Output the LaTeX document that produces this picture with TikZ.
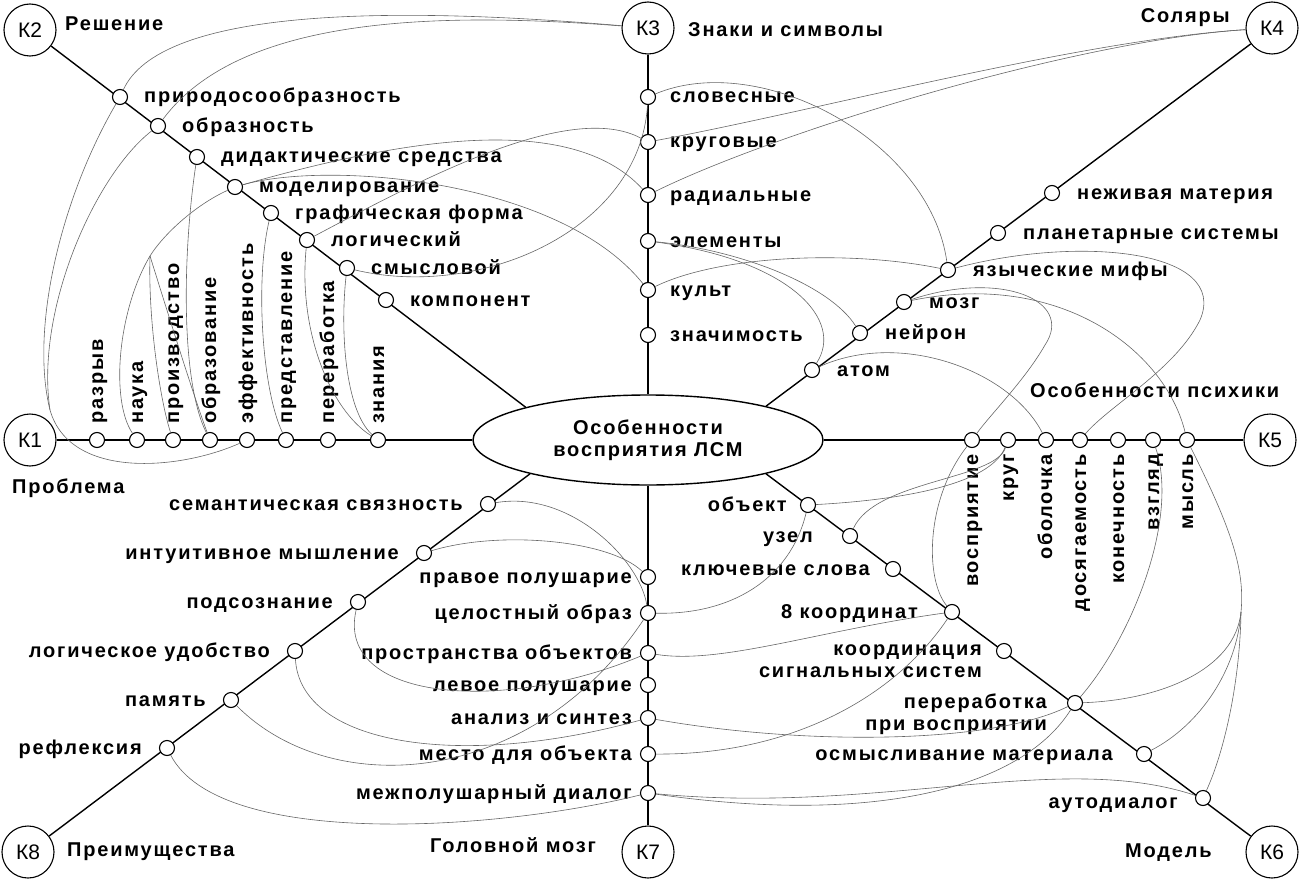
\documentclass[tikz,border=0pt]{standalone}
\usepackage{fontspec}
\setmainfont{Liberation Sans}
\newfontfamily\lblfont{Liberation Sans}[LetterSpace=9]
\usetikzlibrary{shapes.geometric}
\begin{document}
\begin{tikzpicture}[x=1pt,y=-1pt,every node/.style={inner sep=0pt},
    hub/.style={circle,draw,line width=1.1pt,minimum size=52pt,fill=white,font=\fontsize{21}{23}\selectfont},
    dot/.style={circle,draw,line width=1.1pt,minimum size=15pt,fill=white},
    lbl/.style={font=\lblfont\bfseries\fontsize{20}{22}\selectfont},
    axis/.style={line width=1.4pt},
    link/.style={line width=0.6pt,black!60}]
\useasboundingbox (0,0) rectangle (1301,880);
% centre and the eight keys
\node[lbl,ellipse,draw,line width=1.4pt,minimum width=350pt,minimum height=90pt,align=center] (lsm) at (648,440) {Особенности\\восприятия ЛСМ};
\node[hub] (K1) at (30,440) {К1};
\node[hub] (K2) at (30,30) {К2};
\node[hub] (K3) at (648,28) {К3};
\node[hub] (K4) at (1272,28) {К4};
\node[hub] (K5) at (1270,440) {К5};
\node[hub] (K6) at (1272,852) {К6};
\node[hub] (K7) at (648,852) {К7};
\node[hub] (K8) at (28,852) {К8};
\draw[axis] (K1) -- (lsm.west);
\draw[axis] (K2) -- (lsm.165);
\draw[axis] (K3) -- (lsm.north);
\draw[axis] (K4) -- (lsm.16);
\draw[axis] (K5) -- (lsm.east);
\draw[axis] (K6) -- (lsm.-16);
\draw[axis] (K7) -- (lsm.south);
\draw[axis] (K8) -- (lsm.196);
% key titles
\node[lbl,anchor=base west] (t2) at (65,31) {Решение};
\node[lbl,anchor=base west] (t3) at (688,37) {Знаки и символы};
\node[lbl,anchor=base east] (t4) at (1230,23) {Соляры};
\node[lbl,anchor=base west] (t5) at (1030,397) {Особенности психики};
\node[lbl,anchor=base west] (t1) at (12,493) {Проблема};
\node[lbl,anchor=base west] (t8) at (67,856) {Преимущества};
\node[lbl,anchor=base west] (t7) at (430,852) {Головной мозг};
\node[lbl,anchor=base west] (t6) at (1125,857) {Модель};
% K2
\foreach \n/\x/\y/\t in {pr/120/97/природосообразность, obr/158/126/образность,
    did/197/157/дидактические средства, mod/235/187/моделирование,
    gra/271/213/графическая форма, lgc/307/240/логический,
    sms/347/268/смысловой, kmp/386/300/компонент}{
  \node[dot] (\n) at (\x,\y) {};
  \node[lbl,anchor=base west] (\n-t) at (\x+24,\y+6) {\t};
}
% K1
\foreach \n/\x/\t in {raz/97/разрыв, nau/137/наука, pro/173/производство,
    obz/210/образование, eff/247/эффективность, pre/286/представление,
    prb/328/переработка, zna/378/знания}{
  \node[dot] (\n) at (\x,440) {};
  \node[lbl,rotate=90,anchor=base west] (\n-t) at (\x+6,424) {\t};
}
% K3
\foreach \n/\y/\t in {slo/97/словесные, kru/142/круговые, rad/195/радиальные,
    ele/241/элементы, kul/290/культ, zng/335/значимость}{
  \node[dot] (\n) at (648,\y) {};
  \node[lbl,anchor=base west] (\n-t) at (670,\y+6) {\t};
}
% K4
\foreach \n/\x/\y/\t in {nez/1052/193/неживая материя, pla/998/233/планетарные системы,
    yaz/948/270/языческие мифы, moz/904/302/мозг, ney/860/333/нейрон, ato/812/370/атом}{
  \node[dot] (\n) at (\x,\y) {};
  \node[lbl,anchor=base west] (\n-t) at (\x+25,\y+6) {\t};
}
% K5
\foreach \n/\x/\t in {vos/972/восприятие, krg/1008/круг, obo/1046/оболочка,
    dos/1080/досягаемость, kon/1118/конечность, vzg/1153/взгляд, mys/1187/мысль}{
  \node[dot] (\n) at (\x,440) {};
  \node[lbl,rotate=90,anchor=base east] (\n-t) at (\x+6,454) {\t};
}
% K6
\foreach \n/\x/\y/\d/\t in {obk/808/505/21/объект, uze/850/536/37/узел,
    klu/893/569/23/ключевые слова, koo/952/612/34/8 координат,
    osm/1144/754/31/осмысливание материала}{
  \node[dot] (\n) at (\x,\y) {};
  \node[lbl,anchor=base east] (\n-t) at (\x-\d,\y+6) {\t};
}
\node[dot] (kss) at (1004,651) {};
\node[lbl,anchor=east,align=right] (kss-t) at (982,661) {координация\\сигнальных систем};
\node[dot] (ppv) at (1075,703) {};
\node[lbl,anchor=east,align=right] (ppv-t) at (1047,714) {переработка\\при восприятии};
\node[dot] (aut) at (1203,798) {};
\node[lbl,anchor=base east] (aut-t) at (1178,808) {аутодиалог};
% K7
\foreach \n/\y/\t in {prp/577/правое полушарие, cel/613/целостный образ,
    prs/653/пространства объектов, lev/685/левое полушарие, ans/718/анализ и синтез,
    mes/754/место для объекта, mpd/793/межполушарный диалог}{
  \node[dot] (\n) at (648,\y) {};
  \node[lbl,anchor=base east] (\n-t) at (632,\y+6) {\t};
}
% K8
\foreach \n/\x/\y/\t in {sem/488/504/семантическая связность, int/424/553/интуитивное мышление,
    pod/358/602/подсознание, ldb/295/651/логическое удобство, pam/231/700/память,
    ref/167/748/рефлексия}{
  \node[dot] (\n) at (\x,\y) {};
  \node[lbl,anchor=base east] (\n-t) at (\x-25,\y+6) {\t};
}
% links
\coordinate (j1) at (50,410);
\coordinate (j2) at (150,256);
\coordinate (j6) at (1241,612);
\draw[link] (K3) .. controls (380,5) and (160,10) .. (pr);
\draw[link] (pr) .. controls (60,200) and (30,330) .. (j1) .. controls (70,480) and (180,470) .. (eff);
\draw[link] (K3) .. controls (440,12) and (240,15) .. (obr);
\draw[link] (obr) .. controls (95,175) and (35,310) .. (j1);
\draw[link] (did) .. controls (183,250) and (180,380) .. (obz);
\draw[link] (mod) .. controls (195,205) and (163,235) .. (j2);
\draw[link] (j2) .. controls (118,310) and (110,400) .. (nau);
\draw[link] (j2) .. controls (148,320) and (160,400) .. (pro);
\draw[link] (j2) .. controls (170,320) and (195,400) .. (obz);
\draw[link] (mod) .. controls (330,160) and (560,180) .. (kul);
\draw[link] (mod) .. controls (400,140) and (570,110) .. (rad);
\draw[link] (lgc) .. controls (420,180) and (570,100) .. (kru);
\draw[link] (sms) .. controls (480,300) and (640,230) .. (slo);
\draw[link] (gra) .. controls (255,280) and (262,390) .. (pre);
\draw[link] (lgc) .. controls (298,330) and (330,410) .. (zna);
\draw[link] (sms) .. controls (340,330) and (345,410) .. (zna);
\draw[link] (slo) .. controls (760,50) and (930,140) .. (yaz);
\draw[link] (K4) .. controls (1080,40) and (820,110) .. (kru);
\draw[link] (K4) .. controls (1080,40) and (780,130) .. (rad);
\draw[link] (ele) .. controls (740,250) and (830,285) .. (ney);
\draw[link] (ele) .. controls (790,260) and (845,320) .. (ato);
\draw[link] (kul) .. controls (720,255) and (850,250) .. (yaz);
\draw[link] (yaz) .. controls (1080,235) and (1230,250) .. (1200,320) .. controls (1175,370) and (1110,405) .. (dos);
\draw[link] (moz) .. controls (1000,270) and (1075,300) .. (1045,345) .. controls (1025,380) and (990,415) .. (vos);
\draw[link] (moz) .. controls (1060,270) and (1165,350) .. (mys);
\draw[link] (mys) .. controls (1232,530) and (1245,570) .. (j6) .. controls (1240,680) and (1225,750) .. (aut);
\draw[link] (ppv) .. controls (1160,700) and (1235,670) .. (j6);
\draw[link] (osm) .. controls (1200,725) and (1237,670) .. (j6);
\draw[link] (ato) .. controls (900,330) and (1010,370) .. (obo);
\draw[link] (vos) .. controls (925,500) and (925,580) .. (koo);
\draw[link] (krg) .. controls (995,480) and (875,480) .. (uze);
\draw[link] (obk) .. controls (900,500) and (990,485) .. (krg);
\draw[link] (obk) .. controls (790,580) and (730,615) .. (cel);
\draw[link] (koo) .. controls (820,630) and (720,665) .. (prs);
\draw[link] (koo) .. controls (900,690) and (800,755) .. (mes);
\draw[link] (ans) .. controls (800,745) and (990,745) .. (ppv);
\draw[link] (ppv) .. controls (1130,640) and (1180,520) .. (vzg);
\draw[link] (mpd) .. controls (870,825) and (1020,790) .. (ppv);
\draw[link] (mpd) .. controls (880,815) and (1060,750) .. (aut);
\draw[link] (sem) .. controls (570,490) and (640,560) .. (cel);
\draw[link] (int) .. controls (500,530) and (610,540) .. (prp);
\draw[link] (pod) .. controls (335,700) and (500,715) .. (prs);
\draw[link] (ldb) .. controls (300,745) and (460,770) .. (ans);
\draw[link] (pam) .. controls (330,800) and (530,790) .. (cel);
\draw[link] (ref) .. controls (220,850) and (500,830) .. (mpd);
\end{tikzpicture}
\end{document}
